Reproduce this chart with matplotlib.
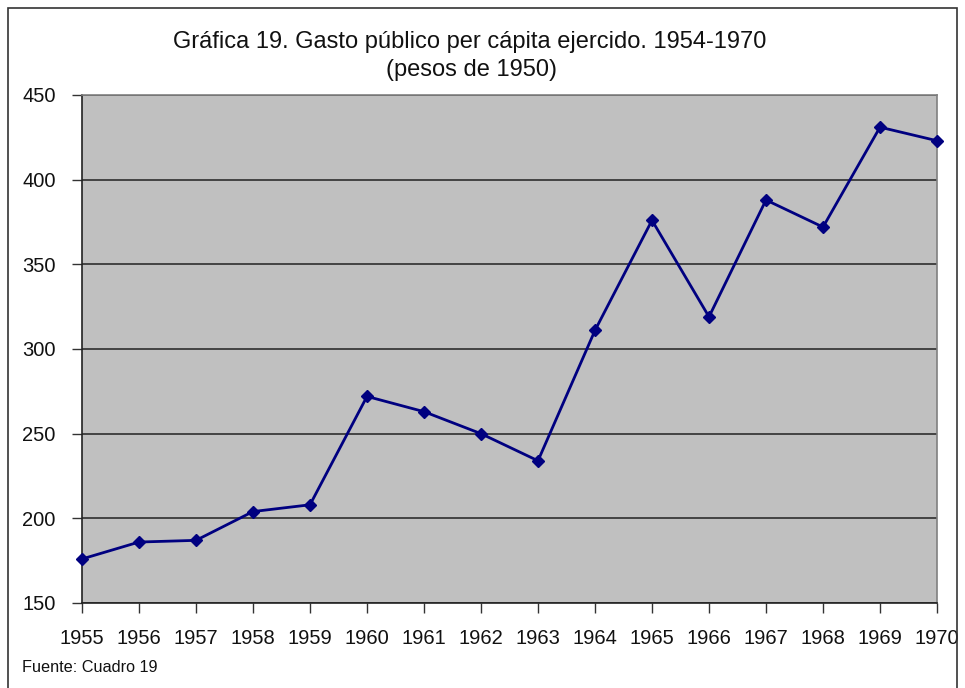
import matplotlib.pyplot as plt
from matplotlib.patches import Rectangle

years = [1955, 1956, 1957, 1958, 1959, 1960, 1961, 1962,
         1963, 1964, 1965, 1966, 1967, 1968, 1969, 1970]
gasto = [176, 186, 187, 204, 208, 272, 263, 250,
         234, 311, 376, 319, 388, 372, 431, 423]
yticks = [150, 200, 250, 300, 350, 400, 450]

plt.rcParams['font.family'] = ['Liberation Sans', 'DejaVu Sans']

fig = plt.figure(figsize=(9.65, 6.88), dpi=100)
ax = fig.add_axes([82 / 965, 1 - 603 / 688, (937 - 82) / 965, (603 - 95) / 688])
ax.set_facecolor('#C0C0C0')

ax.plot(years, gasto, color='#000080', linewidth=2, marker='D', markersize=6,
        markerfacecolor='#000080', markeredgecolor='#000080', clip_on=False, zorder=3)

ax.set_xlim(1955, 1970)
ax.set_ylim(150, 450)
ax.set_xticks(years)
ax.set_yticks(yticks)
ax.tick_params(axis='both', direction='out', length=7, width=1, color='#333333',
               labelsize=14.5, labelcolor='#111111')
ax.tick_params(axis='x', pad=12)
ax.tick_params(axis='y', pad=12)
ax.yaxis.grid(True, color='#222222', linewidth=1.1)
ax.set_axisbelow(True)
for s in ax.spines.values():
    s.set_color('#808080')
    s.set_linewidth(1.2)
ax.spines['left'].set_color('#222222')
ax.spines['bottom'].set_color('#222222')

fig.text(470 / 965, 1 - 42 / 688, "Gráfica 19. Gasto público per cápita ejercido. 1954-1970",
         ha='center', va='center', fontsize=17, color='#111111')
fig.text(471 / 965, 1 - 70 / 688, "(pesos de 1950)",
         ha='center', va='center', fontsize=17, color='#111111')
fig.text(22 / 965, 1 - 668 / 688, "Fuente: Cuadro 19", ha='left', va='center', fontsize=11.7,
         color='#111111')

fig.patches.append(Rectangle((8 / 965, -0.05), (957 - 8) / 965, 1 - 8 / 688 + 0.05,
                             transform=fig.transFigure, fill=False, edgecolor='#333333',
                             linewidth=1.2))

plt.savefig("out.png", dpi=100)
